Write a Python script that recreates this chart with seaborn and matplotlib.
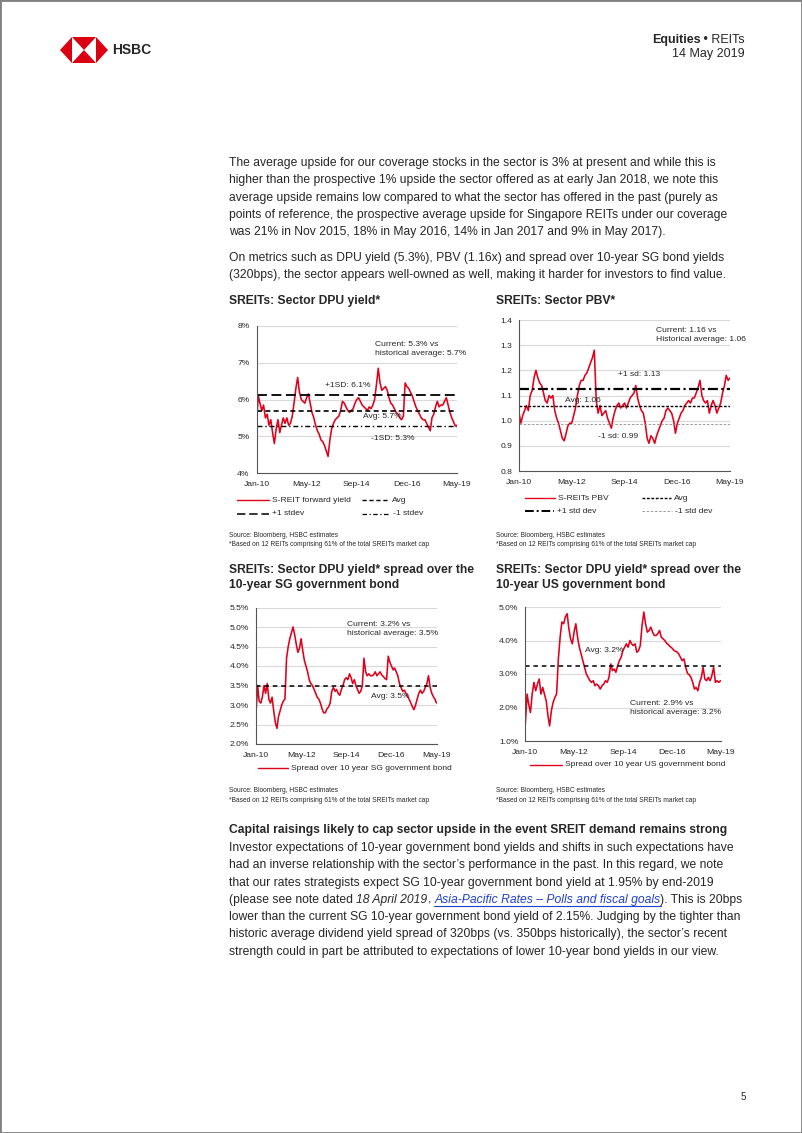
import numpy as np
import pandas as pd
import matplotlib
matplotlib.use("Agg")
import matplotlib.pyplot as plt
import seaborn as sns
from matplotlib.lines import Line2D
from matplotlib.patches import Polygon, Rectangle

# === DATA (monthly readings, Jan-10 .. May-19) ===
months = pd.date_range("2010-01-01", periods=113, freq="MS")
tick_idx = [0, 28, 56, 84, 112]
tick_labels = ["Jan-10", "May-12", "Sep-14", "Dec-16", "May-19"]

dpu_yield = [5.4, 6.1, 5.9, 5.7, 5.85, 5.5, 5.6, 5.3, 5.45, 5.1,
             4.8, 5.2, 5.45, 5.1, 5.3, 5.5, 5.35, 5.5, 5.3, 5.35,
             5.55, 5.9, 6.3, 6.6, 6.2, 6.0, 5.95, 5.9, 6.05, 6.15,
             5.9, 5.65, 5.5, 5.3, 5.15, 5.05, 4.9, 4.85, 4.75, 4.6,
             4.45, 4.9, 5.2, 5.35, 5.45, 5.5, 5.55, 5.7, 5.95, 5.9,
             5.8, 5.7, 5.65, 5.7, 5.75, 5.9, 6.0, 6.05, 5.95, 5.85,
             5.8, 5.75, 5.7, 5.8, 5.75, 5.85, 6.0, 6.4, 6.85, 6.45,
             6.25, 6.3, 6.35, 6.25, 6.05, 5.9, 5.85, 5.75, 5.65, 5.6,
             5.5, 5.45, 5.55, 6.45, 6.35, 6.3, 6.2, 6.1, 5.95, 5.8,
             5.7, 5.6, 5.5, 5.45, 5.45, 5.35, 5.25, 5.15, 5.5, 5.6,
             5.8, 5.95, 5.8, 5.85, 5.85, 5.95, 6.05, 5.85, 5.65, 5.5,
             5.4, 5.28, 5.3]
dpu_avg, dpu_plus1, dpu_minus1 = 5.7, 6.12, 5.27

pbv = [1.03, 0.99, 1.02, 1.04, 1.06, 1.04, 1.10, 1.12, 1.17, 1.20,
       1.17, 1.15, 1.14, 1.11, 1.08, 1.07, 1.10, 1.09, 1.10, 1.04,
       1.01, 0.99, 0.96, 0.93, 0.92, 0.95, 0.98, 0.99, 0.99, 1.02,
       1.05, 1.10, 1.14, 1.16, 1.16, 1.18, 1.19, 1.21, 1.23, 1.25,
       1.28, 1.08, 1.03, 1.06, 1.02, 1.03, 1.04, 1.01, 0.99, 0.97,
       1.01, 1.04, 1.06, 1.07, 1.05, 1.06, 1.07, 1.05, 1.07, 1.09,
       1.10, 1.11, 1.14, 1.09, 1.06, 1.04, 1.03, 0.99, 0.93, 0.91,
       0.94, 0.93, 0.91, 0.94, 0.96, 0.98, 1.00, 1.01, 1.04, 1.05,
       1.04, 1.03, 1.00, 0.95, 0.99, 1.01, 1.03, 1.04, 1.06, 1.07,
       1.08, 1.07, 1.09, 1.09, 1.11, 1.13, 1.16, 1.10, 1.08, 1.07,
       1.08, 1.03, 1.06, 1.08, 1.06, 1.03, 1.05, 1.07, 1.11, 1.14,
       1.18, 1.16, 1.17]
pbv_avg, pbv_plus1, pbv_minus1 = 1.058, 1.127, 0.988

sg_spread = [2.8, 3.5, 3.1, 3.05, 3.2, 3.5, 3.3, 3.55, 3.15, 3.05,
             3.2, 2.85, 2.55, 2.4, 2.7, 2.85, 3.0, 3.1, 3.15, 4.2,
             4.5, 4.7, 4.85, 5.0, 4.8, 4.55, 4.35, 4.45, 4.7, 4.4,
             4.15, 4.0, 3.85, 3.65, 3.55, 3.5, 3.4, 3.3, 3.2, 3.15,
             3.05, 2.9, 2.8, 2.8, 2.9, 2.95, 3.05, 3.35, 3.45, 3.35,
             3.4, 3.3, 3.25, 3.4, 3.5, 3.65, 3.7, 3.65, 3.8, 3.7,
             3.55, 3.65, 3.5, 3.4, 3.3, 3.35, 3.5, 4.2, 3.85, 3.75,
             3.8, 3.75, 3.75, 3.78, 3.85, 3.75, 3.8, 3.85, 3.77, 3.73,
             3.68, 3.65, 4.25, 4.1, 4.0, 3.9, 3.95, 3.85, 3.75, 3.55,
             3.45, 3.35, 3.38, 3.3, 3.22, 3.15, 3.05, 2.95, 2.88, 3.0,
             3.15, 3.3, 3.38, 3.3, 3.35, 3.45, 3.55, 3.75, 3.45, 3.3,
             3.22, 3.15, 3.05]
sg_avg = 3.5

us_spread = [1.5, 2.4, 2.1, 1.85, 2.4, 2.75, 2.5, 2.7, 2.85, 2.4,
             2.6, 2.4, 2.2, 1.75, 1.45, 1.9, 2.15, 2.3, 2.4, 3.45,
             4.1, 4.55, 4.5, 4.7, 4.8, 4.35, 4.05, 3.9, 4.25, 4.5,
             4.1, 3.8, 3.6, 3.4, 3.2, 3.0, 2.9, 2.8, 2.75, 2.8,
             2.65, 2.7, 2.65, 2.55, 2.65, 2.7, 2.8, 2.75, 2.9, 3.3,
             3.1, 3.15, 3.05, 3.25, 3.4, 3.5, 3.7, 3.8, 3.9, 3.8,
             4.0, 3.9, 3.85, 3.9, 3.65, 3.7, 3.85, 4.45, 4.85, 4.5,
             4.25, 4.3, 4.4, 4.25, 4.15, 4.15, 4.2, 4.3, 4.1, 4.05,
             4.0, 3.92, 3.88, 3.82, 3.78, 3.72, 3.68, 3.66, 3.6, 3.5,
             3.4, 3.45, 3.2, 3.02, 2.98, 2.9, 2.75, 2.55, 2.6, 2.5,
             2.75, 2.9, 3.2, 2.85, 2.8, 2.9, 2.8, 2.95, 3.2, 2.75,
             2.8, 2.75, 2.8]
us_avg = 3.25

df = pd.DataFrame({"month": months, "dpu": dpu_yield, "pbv": pbv,
                   "sg": sg_spread, "us": us_spread})

# === PAGE TEXT ===
para1 = [
    "The average upside for our coverage stocks in the sector is 3% at present and while this is",
    "higher than the prospective 1% upside the sector offered as at early Jan 2018, we note this",
    "average upside remains low compared to what the sector has offered in the past (purely as",
    "points of reference, the prospective average upside for Singapore REITs under our coverage",
    "was 21% in Nov 2015, 18% in May 2016, 14% in Jan 2017 and 9% in May 2017).",
]
para2 = [
    "On metrics such as DPU yield (5.3%), PBV (1.16x) and spread over 10-year SG bond yields",
    "(320bps), the sector appears well-owned as well, making it harder for investors to find value.",
]
heading = "Capital raisings likely to cap sector upside in the event SREIT demand remains strong"
para3_top = [
    "Investor expectations of 10-year government bond yields and shifts in such expectations have",
    "had an inverse relationship with the sector\u2019s performance in the past. In this regard, we note",
    "that our rates strategists expect SG 10-year government bond yield at 1.95% by end-2019",
]
para3_bottom = [
    "lower than the current SG 10-year government bond yield of 2.15%. Judging by the tighter than",
    "historic average dividend yield spread of 320bps (vs. 350bps historically), the sector\u2019s recent",
    "strength could in part be attributed to expectations of lower 10-year bond yields in our view.",
]
source1 = "Source: Bloomberg, HSBC estimates"
source2 = "*Based on 12 REITs comprising 61% of the total SREITs market cap"

# === STYLE ===
sns.set_style("white")
plt.rcParams["font.family"] = ["Liberation Sans", "DejaVu Sans"]
RED = "#e0001b"
W, H = 802, 1133
BODY = 8.7
TITLE = 8.7
SMALL = 6.1
SRC = 4.8
LINE_W = 1.15

fig = plt.figure(figsize=(W / 100, H / 100), dpi=100)
renderer = fig.canvas.get_renderer()


def txt(x, y, s, size=BODY, **kw):
    kw.setdefault("va", "center")
    return fig.text(x / W, 1 - y / H, s, fontsize=size, **kw)


def panel(x0, y0, x1, y1):
    return fig.add_axes([x0 / W, 1 - y1 / H, (x1 - x0) / W, (y1 - y0) / H])


def style_axes(ax, yticks, fmt):
    ax.set_ylim(yticks[0], yticks[-1])
    ax.set_yticks(yticks)
    ax.set_yticklabels([fmt.format(v) for v in yticks])
    ax.set_xlim(months[0], months[-1])
    ax.set_xticks(months[tick_idx])
    ax.set_xticklabels(tick_labels)
    ax.grid(axis="y", color="#d9d9d9", lw=0.8)
    ax.grid(axis="x", visible=False)
    ax.set_axisbelow(True)
    for s in ["top", "right"]:
        ax.spines[s].set_visible(False)
    for s in ["left", "bottom"]:
        ax.spines[s].set_color("#555555")
        ax.spines[s].set_linewidth(0.8)
    ax.tick_params(axis="both", labelsize=SMALL, length=3, width=0.6,
                   color="#555555", pad=2, direction="out")
    ax.tick_params(axis="x", pad=3)
    ax.set_xlabel("")
    ax.set_ylabel("")


def legend_item(x0, x1, y, label, **kw):
    fig.add_artist(Line2D([x0 / W, x1 / W], [1 - y / H] * 2,
                          transform=fig.transFigure, **kw))
    txt(x1 + 3, y, label, size=SMALL)


# === HEADER ===
hexagon = [(60, 50), (72, 37), (96, 37), (108, 50), (96, 63), (72, 63)]
fig.add_artist(Polygon([(x / W, 1 - y / H) for x, y in hexagon],
                       transform=fig.transFigure, color="#db0011", lw=0))
for tri in ([(72, 37), (84, 50), (72, 63)], [(96, 37), (84, 50), (96, 63)]):
    fig.add_artist(Polygon([(x / W, 1 - y / H) for x, y in tri],
                           transform=fig.transFigure, color="white", lw=0))
txt(112, 50, "HSBC", size=10, weight="bold")
t = txt(745, 40, " \u2022 REITs", size=9, ha="right")
w = t.get_window_extent(renderer).width
txt(745 - w, 40, "Equities", size=9, ha="right", weight="bold")
txt(745, 54, "14 May 2019", size=9, ha="right")

# === BODY TEXT ===
for i, line in enumerate(para1):
    txt(229, 163 + 17.3 * i, line)
for i, line in enumerate(para2):
    txt(229, 258 + 17.3 * i, line)

# === CHART 1: DPU yield ===
txt(229, 301, "SREITs: Sector DPU yield*", size=TITLE, weight="bold")
ax1 = panel(256.5, 326, 457, 473)
sns.lineplot(data=df, x="month", y="dpu", ax=ax1, color=RED, lw=LINE_W)
ax1.axhline(dpu_plus1, color="black", lw=1.3, dashes=(5.5, 2.5))
ax1.axhline(dpu_avg, color="black", lw=1.2, dashes=(3, 2))
ax1.axhline(dpu_minus1, color="black", lw=1.0, dashes=(3.6, 2, 1, 2))
style_axes(ax1, [4, 5, 6, 7, 8], "{:.0f}%")
txt(375, 349, "Current: 5.3% vs\nhistorical average: 5.7%", size=SMALL,
    linespacing=1.35)
txt(325, 385, "+1SD: 6.1%", size=SMALL)
txt(363, 417, "Avg: 5.7%", size=SMALL)
txt(371, 438, "-1SD: 5.3%", size=SMALL)
legend_item(237, 269, 500, "S-REIT forward yield", color=RED, lw=1.0)
legend_item(362, 389, 500, "Avg", color="black", lw=1.0, dashes=(3, 2))
legend_item(237, 269, 514, "+1 stdev", color="black", lw=1.1, dashes=(5.5, 2.5))
legend_item(362, 390, 514, "-1 stdev", color="black", lw=0.9, dashes=(3.6, 2, 1, 2))
txt(229, 536, source1, size=SRC)
txt(229, 545, source2, size=SRC)

# === CHART 2: PBV ===
txt(496, 301, "SREITs: Sector PBV*", size=TITLE, weight="bold")
ax2 = panel(519, 320, 730, 471)
sns.lineplot(data=df, x="month", y="pbv", ax=ax2, color=RED, lw=LINE_W)
ax2.axhline(pbv_plus1, color="black", lw=1.6, dashes=(4.5, 1.5, 1, 1.5))
ax2.axhline(pbv_avg, color="black", lw=1.0, dashes=(2, 1.2))
ax2.axhline(pbv_minus1, color="#8c8c8c", lw=0.6, dashes=(3, 2))
style_axes(ax2, [0.8, 0.9, 1.0, 1.1, 1.2, 1.3, 1.4], "{:.1f}")
txt(656, 335, "Current: 1.16 vs\nHistorical average: 1.06", size=SMALL,
    linespacing=1.35)
txt(618, 375, "+1 sd: 1.13", size=SMALL)
txt(565, 400, "Avg: 1.06", size=SMALL)
txt(598, 436, "-1 sd: 0.99", size=SMALL)
legend_item(525, 555, 498, "S-REITs PBV", color=RED, lw=1.0)
legend_item(642, 671, 498, "Avg", color="black", lw=1.0, dashes=(2, 1.2))
legend_item(525, 554, 511, "+1 std dev", color="black", lw=1.4, dashes=(4.5, 1.5, 1, 1.5))
legend_item(642, 672, 511, "-1 std dev", color="#8c8c8c", lw=0.6, dashes=(3, 2))
txt(496, 536, source1, size=SRC)
txt(496, 545, source2, size=SRC)

# === CHART 3: spread over SG 10y ===
txt(229, 564, "SREITs: Sector DPU yield* spread over the\n10-year SG government bond",
    size=TITLE, weight="bold", va="top", linespacing=1.3)
ax3 = panel(256, 607.5, 436.5, 744)
sns.lineplot(data=df, x="month", y="sg", ax=ax3, color=RED, lw=LINE_W)
ax3.axhline(sg_avg, color="black", lw=1.1, dashes=(3, 2.5))
style_axes(ax3, [2.0, 2.5, 3.0, 3.5, 4.0, 4.5, 5.0, 5.5], "{:.1f}%")
txt(347, 629, "Current: 3.2% vs\nhistorical average: 3.5%", size=SMALL,
    linespacing=1.35)
txt(371, 697, "Avg: 3.5%", size=SMALL)
legend_item(258, 288, 768, "Spread over 10 year SG government bond", color=RED, lw=1.0)
txt(229, 791, source1, size=SRC)
txt(229, 800, source2, size=SRC)

# === CHART 4: spread over US 10y ===
txt(496, 564, "SREITs: Sector DPU yield* spread over the\n10-year US government bond",
    size=TITLE, weight="bold", va="top", linespacing=1.3)
ax4 = panel(525.3, 607, 720.5, 741)
sns.lineplot(data=df, x="month", y="us", ax=ax4, color=RED, lw=LINE_W)
ax4.axhline(us_avg, color="black", lw=1.1, dashes=(3, 2.5))
style_axes(ax4, [1.0, 2.0, 3.0, 4.0, 5.0], "{:.1f}%")
txt(585, 651, "Avg: 3.2%", size=SMALL)
txt(630, 708, "Current: 2.9% vs\nhistorical average: 3.2%", size=SMALL,
    linespacing=1.35)
legend_item(530, 562, 765, "Spread over 10 year US government bond", color=RED, lw=1.0)
txt(496, 791, source1, size=SRC)
txt(496, 800, source2, size=SRC)

# === BOTTOM TEXT ===
txt(229, 830, heading, weight="bold")
for i, line in enumerate(para3_top):
    txt(229, 848 + 17.3 * i, line)
# mixed-style line with italic date and link
x = 229
y_mixed = 848 + 17.3 * 3
pieces = [("(please see note dated ", {}),
          ("18 April 2019", {"style": "italic"}),
          (", ", {}),
          ("Asia-Pacific Rates \u2013 Polls and fiscal goals", {"style": "italic", "color": "#1f3fd1"}),
          ("). This is 20bps", {})]
for s, kw in pieces:
    t = txt(x, y_mixed, s, **kw)
    bb = t.get_window_extent(renderer)
    if kw.get("color"):
        fig.add_artist(Line2D([x / W, (x + bb.width) / W], [1 - (y_mixed + 6) / H] * 2,
                              transform=fig.transFigure, color=kw["color"], lw=0.8))
    x += bb.width
for i, line in enumerate(para3_bottom):
    txt(229, 848 + 17.3 * (4 + i), line)

# page number and border
txt(741, 1097, "5", size=7)
fig.add_artist(Rectangle((0, 0), 1, 1, transform=fig.transFigure, fill=False,
                         edgecolor="#808080", lw=2))

fig.savefig("out.png", dpi=100)
